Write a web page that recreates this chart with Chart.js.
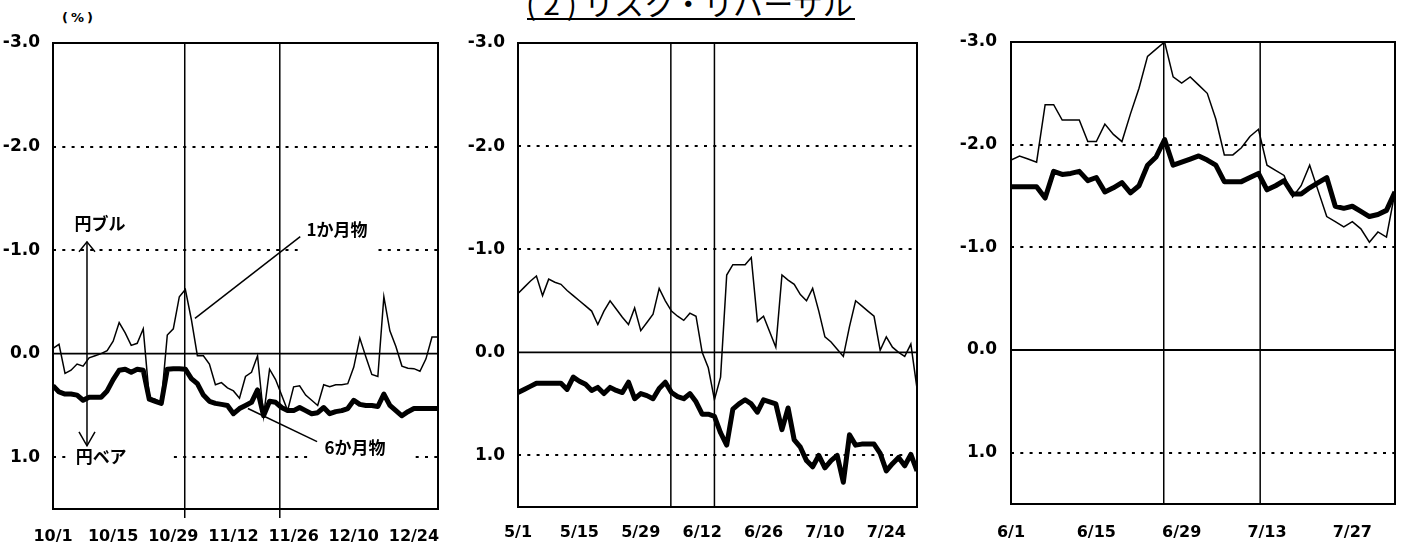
<!DOCTYPE html>
<html>
<head>
<meta charset="utf-8">
<script src="https://cdn.jsdelivr.net/npm/chart.js@4.4.1/dist/chart.umd.min.js"></script>
<style>
  html, body { margin: 0; padding: 0; background: #fff; }
  #wrap { position: relative; width: 1407px; height: 544px; overflow: hidden; background: #fff; }
  canvas { position: absolute; top: 0; }
  #title { position: absolute; left: 526px; top: -13px; font-family: "Noto Sans CJK JP"; font-size: 30px; line-height: 30px; white-space: nowrap; color: #000; }
  #title-line { position: absolute; left: 527px; top: 18px; width: 328px; height: 2px; background: #000; }
  #unit { position: absolute; left: 62px; top: 9px; font-family: "DejaVu Sans"; font-weight: bold; font-size: 13px; line-height: 18px; letter-spacing: 3px; color: #000; }
</style>
</head>
<body>
<div id="wrap">
  <div id="title"><span style="letter-spacing:7px">(2)</span>リスク・リバーサル</div>
  <div id="title-line"></div>
  <div id="unit">(%)</div>
  <canvas id="c1" width="460" height="544" style="left:0px"></canvas>
  <canvas id="c2" width="480" height="544" style="left:460px"></canvas>
  <canvas id="c3" width="467" height="544" style="left:940px"></canvas>
</div>
<script>
// y axis (reversed: yen bull up)
const yTicks = [-3, -2, -1, 0, 1]
const dottedLevels = [-2, -1, 1]
const yMin = -3
const yMax = 1.5

// panel 1 : 10/1 - 12/28, business days
const ticks1 = ['10/1', '10/15', '10/29', '11/12', '11/26', '12/10', '12/24']
const oneMonth1 = [-0.05, -0.09, 0.19, 0.16, 0.10, 0.12, 0.04, 0.02, 0.00, -0.03,
  -0.12, -0.30, -0.20, -0.08, -0.10, -0.24, 0.42, 0.44, 0.47, -0.18,
  -0.24, -0.55, -0.62, -0.33, 0.02, 0.02, 0.10, 0.30, 0.28, 0.33,
  0.36, 0.43, 0.22, 0.18, 0.02, 0.60, 0.15, 0.25, 0.40, 0.55,
  0.32, 0.31, 0.40, 0.45, 0.50, 0.30, 0.32, 0.30, 0.30, 0.29,
  0.13, -0.15, 0.03, 0.20, 0.22, -0.55, -0.22, -0.07, 0.12, 0.14,
  0.145, 0.17, 0.05, -0.16, -0.16]
const sixMonth1 = [0.31, 0.37, 0.39, 0.39, 0.40, 0.45, 0.42, 0.42, 0.42, 0.36,
  0.25, 0.16, 0.15, 0.18, 0.15, 0.16, 0.44, 0.46, 0.48, 0.15,
  0.145, 0.145, 0.15, 0.24, 0.29, 0.40, 0.46, 0.48, 0.49, 0.50,
  0.58, 0.53, 0.50, 0.47, 0.35, 0.60, 0.46, 0.47, 0.52, 0.55,
  0.55, 0.52, 0.55, 0.58, 0.57, 0.52, 0.58, 0.56, 0.55, 0.53,
  0.45, 0.49, 0.50, 0.50, 0.51, 0.39, 0.50, 0.55, 0.60, 0.56,
  0.53, 0.53, 0.53, 0.53, 0.53]
const events1 = [21.9, 37.7]

// panel 2 : 5/1 - 7/31
const ticks2 = ['5/1', '5/15', '5/29', '6/12', '6/26', '7/10', '7/24']
const oneMonth2 = [-0.57, -0.63, -0.69, -0.74, -0.55, -0.71, -0.68, -0.66, -0.60, -0.55,
  -0.50, -0.45, -0.40, -0.27, -0.40, -0.50, -0.42, -0.34, -0.27, -0.43,
  -0.21, -0.29, -0.37, -0.62, -0.50, -0.40, -0.35, -0.31, -0.38, -0.35,
  0.00, 0.15, 0.46, 0.24, -0.75, -0.85, -0.85, -0.85, -0.92, -0.30,
  -0.35, -0.20, -0.05, -0.75, -0.70, -0.66, -0.56, -0.50, -0.62, -0.40,
  -0.15, -0.10, -0.03, 0.04, -0.25, -0.50, -0.45, -0.40, -0.35, -0.02,
  -0.15, -0.05, 0.00, 0.04, -0.08, 0.35]
const sixMonth2 = [0.39, 0.36, 0.33, 0.30, 0.30, 0.30, 0.30, 0.30, 0.36, 0.24,
  0.28, 0.31, 0.37, 0.34, 0.40, 0.34, 0.37, 0.39, 0.29, 0.45,
  0.40, 0.42, 0.45, 0.35, 0.29, 0.39, 0.43, 0.45, 0.40, 0.48,
  0.60, 0.60, 0.62, 0.78, 0.90, 0.55, 0.50, 0.46, 0.50, 0.58,
  0.46, 0.48, 0.50, 0.75, 0.54, 0.85, 0.92, 1.05, 1.11, 1.00,
  1.12, 1.05, 1.00, 1.26, 0.80, 0.90, 0.89, 0.89, 0.89, 0.98,
  1.15, 1.08, 1.02, 1.10, 0.99, 1.15]
const events2 = [24.9, 32.0]

// panel 3 : 6/1 - 8/3
const ticks3 = ['6/1', '6/15', '6/29', '7/13', '7/27']
const oneMonth3 = [-1.85, -1.89, -1.86, -1.83, -2.39, -2.39, -2.24, -2.24, -2.24, -2.03,
  -2.03, -2.20, -2.10, -2.03, -2.30, -2.55, -2.86, -2.93, -3.00, -2.66,
  -2.60, -2.66, -2.58, -2.50, -2.25, -1.90, -1.90, -1.97, -2.08, -2.15,
  -1.80, -1.75, -1.70, -1.49, -1.60, -1.80, -1.55, -1.30, -1.25, -1.20,
  -1.25, -1.18, -1.05, -1.15, -1.10, -1.54]
const sixMonth3 = [-1.59, -1.59, -1.59, -1.59, -1.48, -1.74, -1.71, -1.72, -1.74, -1.65,
  -1.68, -1.54, -1.58, -1.63, -1.53, -1.60, -1.80, -1.88, -2.05, -1.80,
  -1.83, -1.86, -1.89, -1.85, -1.80, -1.64, -1.64, -1.64, -1.68, -1.72,
  -1.56, -1.60, -1.65, -1.52, -1.52, -1.58, -1.63, -1.68, -1.40, -1.38,
  -1.40, -1.35, -1.30, -1.32, -1.36, -1.54]
const events3 = [17.9, 29.2]

// notes on panel 1 (data coordinates)
const noteFont = 'bold 17px "Noto Sans CJK JP"'
const notes1 = {
  arrow: { x: 5.65, from: -1.08, to: 0.89 },
  texts: [
    { text: '円ブル', x: 7.8, y: -1.26 },
    { text: '円ベア', x: 8.0, y: 0.99 },
    { text: '1か月物', x: 47.2, y: -1.20 },
    { text: '6か月物', x: 50.2, y: 0.91 },
  ],
  gaps: [[2.5, 19.4, 1], [40.7, 53.5, -1], [43, 59.7, 1]],
  leaders: [[41.1, -1.13, 23.6, -0.34], [32.4, 0.53, 43.9, 0.85]],
}

function toPoints (values) {
  return values.map(function (v, i) { return { x: i, y: v } })
}

function strokeLine (ctx, x0, y0, x1, y1) {
  ctx.beginPath()
  ctx.moveTo(x0, y0)
  ctx.lineTo(x1, y1)
  ctx.stroke()
}

const deco = {
  id: 'deco',
  beforeDatasetsDraw (chart, args, opts) {
    const ctx = chart.ctx
    const a = chart.chartArea
    const x = chart.scales.x
    const y = chart.scales.y
    ctx.save()
    ctx.strokeStyle = '#000'
    ctx.fillStyle = '#000'

    // dotted grid
    ctx.lineWidth = 2
    ctx.setLineDash([3, 6.3])
    dottedLevels.forEach(function (v) {
      const py = Math.round(y.getPixelForValue(v))
      strokeLine(ctx, a.left, py, a.right, py)
    })
    ctx.setLineDash([])

    // zero line
    ctx.lineWidth = 1.8
    const p0 = y.getPixelForValue(0)
    strokeLine(ctx, a.left, p0, a.right, p0)

    // event lines
    ctx.lineWidth = 1.5
    opts.events.forEach(function (e) {
      const px = x.getPixelForValue(e)
      strokeLine(ctx, px, a.top, px, a.bottom + opts.extend)
    })

    const n = opts.notes
    if (n) {
      ctx.fillStyle = '#fff'
      n.gaps.forEach(function (g) {
        const py = y.getPixelForValue(g[2])
        const x0 = x.getPixelForValue(g[0])
        const x1 = x.getPixelForValue(g[1])
        ctx.fillRect(x0, py - 5, x1 - x0, 10)
      })
      ctx.fillStyle = '#000'
      ctx.font = noteFont
      ctx.textAlign = 'center'
      ctx.textBaseline = 'middle'
      n.texts.forEach(function (t) {
        ctx.fillText(t.text, x.getPixelForValue(t.x), y.getPixelForValue(t.y))
      })
      ctx.lineWidth = 1.5
      n.leaders.forEach(function (l) {
        strokeLine(ctx, x.getPixelForValue(l[0]), y.getPixelForValue(l[1]),
          x.getPixelForValue(l[2]), y.getPixelForValue(l[3]))
      })
      // double arrow
      const ax = x.getPixelForValue(n.arrow.x)
      const top = y.getPixelForValue(n.arrow.from)
      const bottom = y.getPixelForValue(n.arrow.to)
      strokeLine(ctx, ax, top, ax, bottom)
      ctx.beginPath()
      ctx.moveTo(ax - 8, top + 10)
      ctx.lineTo(ax, top)
      ctx.lineTo(ax + 8, top + 10)
      ctx.moveTo(ax - 8, bottom - 14)
      ctx.lineTo(ax, bottom)
      ctx.lineTo(ax + 8, bottom - 14)
      ctx.stroke()
    }
    ctx.restore()
  },
  afterDatasetsDraw (chart) {
    const ctx = chart.ctx
    const a = chart.chartArea
    ctx.save()
    ctx.strokeStyle = '#000'
    ctx.lineWidth = 2
    ctx.strokeRect(a.left, a.top, a.right - a.left, a.bottom - a.top)
    ctx.restore()
  },
}

function makePanel (id, p) {
  return new Chart(document.getElementById(id).getContext('2d'), {
    type: 'line',
    data: {
      datasets: [
        {
          label: '6か月物',
          data: toPoints(p.sixMonth),
          borderColor: '#000',
          borderWidth: 5,
          pointRadius: 0,
          borderJoinStyle: 'round',
          tension: 0,
        },
        {
          label: '1か月物',
          data: toPoints(p.oneMonth),
          borderColor: '#000',
          borderWidth: 1.5,
          pointRadius: 0,
          tension: 0,
        },
      ],
    },
    options: {
      responsive: false,
      animation: false,
      devicePixelRatio: 1,
      layout: { padding: { top: p.top, right: p.right, left: 0, bottom: 0 } },
      plugins: {
        legend: { display: false },
        tooltip: { enabled: false },
        deco: { events: p.events, extend: p.extend, notes: p.notes },
      },
      scales: {
        x: {
          type: 'linear',
          min: 0,
          max: p.oneMonth.length - 1,
          grid: { display: false, drawTicks: false },
          border: { display: false },
          afterBuildTicks: function (s) {
            s.ticks = p.tickLabels.map(function (t, k) { return { value: k * 10 } })
          },
          afterFit: function (s) { s.height = p.xHeight },
          ticks: {
            autoSkip: false,
            maxRotation: 0,
            padding: p.xPad,
            color: '#000',
            font: { family: 'DejaVu Sans', weight: 'bold', size: 16 },
            callback: function (v) { return p.tickLabels[Math.round(v / 10)] },
          },
        },
        y: {
          type: 'linear',
          reverse: true,
          min: yMin,
          max: yMax,
          grid: { display: false, drawTicks: false },
          border: { display: false },
          afterBuildTicks: function (s) {
            s.ticks = yTicks.map(function (v) { return { value: v } })
          },
          afterFit: function (s) { s.width = p.yWidth },
          ticks: {
            padding: p.yPad,
            color: '#000',
            font: { family: 'DejaVu Sans', weight: 'bold', size: 17 },
            callback: function (v) { return Number(v).toFixed(1) },
          },
        },
      },
    },
    plugins: [deco],
  })
}

makePanel('c1', {
  tickLabels: ticks1, oneMonth: oneMonth1, sixMonth: sixMonth1, events: events1,
  extend: 9, notes: notes1,
  yWidth: 53, right: 22, top: 43, xHeight: 35, xPad: 18, yPad: 13,
})
makePanel('c2', {
  tickLabels: ticks2, oneMonth: oneMonth2, sixMonth: sixMonth2, events: events2,
  extend: 0, notes: null,
  yWidth: 58, right: 23, top: 43, xHeight: 37, xPad: 16, yPad: 13,
})
makePanel('c3', {
  tickLabels: ticks3, oneMonth: oneMonth3, sixMonth: sixMonth3, events: events3,
  extend: 0, notes: null,
  yWidth: 71, right: 12, top: 42, xHeight: 40, xPad: 19, yPad: 14,
})
</script>
</body>
</html>
